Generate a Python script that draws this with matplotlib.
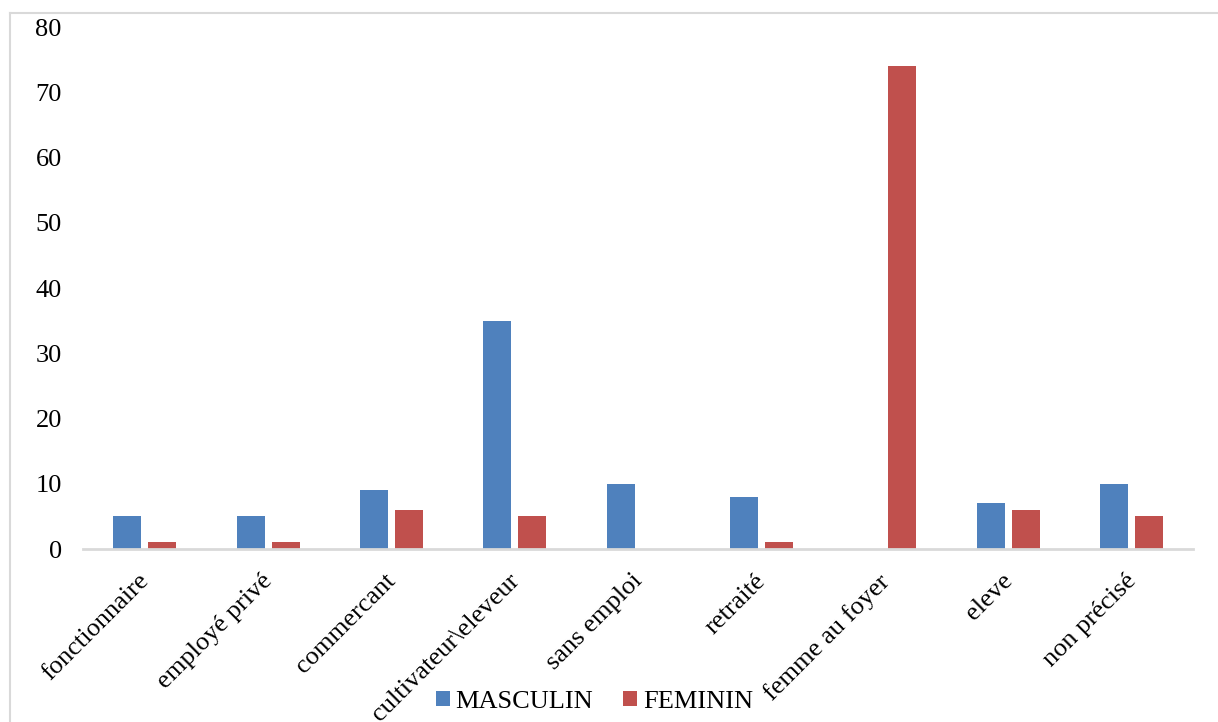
import numpy as np
import matplotlib
matplotlib.use("Agg")
import matplotlib.pyplot as plt
from matplotlib.lines import Line2D
from matplotlib.transforms import ScaledTranslation

CATEGORIES = ["fonctionnaire", "employé privé", "commercant", "cultivateur\\eleveur",
              "sans emploi", "retraité", "femme au foyer", "eleve", "non précisé"]
MASCULIN = [5, 5, 9, 35, 10, 8, 0, 7, 10]
FEMININ = [1, 1, 6, 5, 0, 1, 74, 6, 5]

BLUE = "#4f81bd"
RED = "#c0504d"
GRID = "#d9d9d9"

plt.rcParams["font.family"] = ["Liberation Serif", "DejaVu Serif"]

fig = plt.figure(figsize=(12.18, 7.22), dpi=100)
ax = fig.add_axes([0.0684, 0.2396, 0.9113, 0.723])

x = np.arange(len(CATEGORIES))
w = 0.227
gap = 0.057
ax.bar(x - (w + gap) / 2, MASCULIN, w, color=BLUE, label="MASCULIN")
ax.bar(x + (w + gap) / 2, FEMININ, w, color=RED, label="FEMININ")

ax.set_xlim(-0.5, len(CATEGORIES) - 0.5)
ax.set_ylim(0, 80)
ax.set_yticks(range(0, 81, 10))
ax.set_xticks(x)
ax.set_xticklabels(CATEGORIES, rotation=45, ha="right", rotation_mode="anchor",
                   fontsize=19)
ax.tick_params(axis="y", labelsize=19, length=0, pad=15.5)
ax.tick_params(axis="x", length=0, pad=10)

# nudge the slanted category labels a little down-left
shift = ScaledTranslation(-0.07, -0.07, fig.dpi_scale_trans)
for lbl in ax.get_xticklabels():
    lbl.set_transform(lbl.get_transform() + shift)

for side in ("top", "right", "left"):
    ax.spines[side].set_visible(False)
ax.spines["bottom"].set_color(GRID)
ax.spines["bottom"].set_linewidth(2)

# outer chart frame (top and left edges)
fig.add_artist(Line2D([10 / 1218, 1.0], [1 - 13 / 722, 1 - 13 / 722],
                      color=GRID, lw=1.5, transform=fig.transFigure))
fig.add_artist(Line2D([10 / 1218, 10 / 1218], [0.0, 1 - 13 / 722],
                      color=GRID, lw=1.5, transform=fig.transFigure))

fig.legend(loc="center", bbox_to_anchor=(0.488, 0.028), ncol=2, frameon=False,
           fontsize=19, handlelength=0.53, handleheight=0.53, handletextpad=0.22,
           columnspacing=1.14)

fig.savefig("out.png", dpi=100)
